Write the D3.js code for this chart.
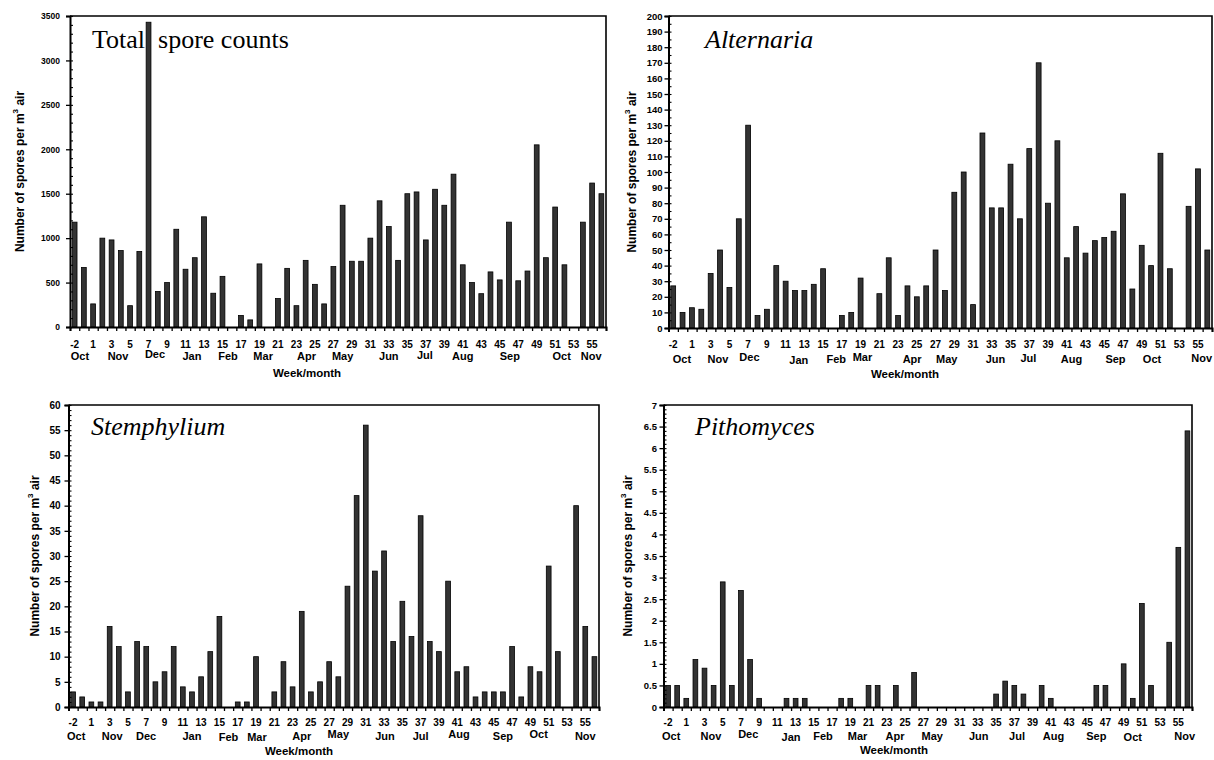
<!DOCTYPE html>
<html><head><meta charset="utf-8">
<script src="https://cdn.jsdelivr.net/npm/d3@7"></script>
<style>
body{margin:0;background:#fff}
svg{display:block}
text{font-family:"Liberation Sans",Arial,sans-serif;fill:#000}
</style>
</head><body>
<svg id="c" width="1214" height="760"></svg>
<script>
// ---- categories (week numbers) ----
const weeks = [-2,-1,1,2,3,4,5,6,7,8,9,10,11,12,13,14,15,16,17,18,19,20,21,22,23,24,25,26,27,28,29,30,31,32,33,34,35,36,37,38,39,40,41,42,43,44,45,46,47,48,49,50,51,52,53,54,55,56];
const months = ["Oct","Nov","Dec","Jan","Feb","Mar","Apr","May","Jun","Jul","Aug","Sep","Oct","Nov"];

// ---- series values ----
const totalCounts = [1180,670,260,1000,980,860,240,850,3430,400,500,1100,650,780,1240,380,570,0,130,80,710,0,320,660,240,750,480,260,680,1370,740,740,1000,1420,1130,750,1500,1520,980,1550,1370,1720,700,500,375,620,530,1180,520,630,2050,780,1350,700,0,1180,1620,1500];
const alternaria = [27,10,13,12,35,50,26,70,130,8,12,40,30,24,24,28,38,0,8,10,32,0,22,45,8,27,20,27,50,24,87,100,15,125,77,77,105,70,115,170,80,120,45,65,48,56,58,62,86,25,53,40,112,38,0,78,102,50];
const stemphylium = [3,2,1,1,16,12,3,13,12,5,7,12,4,3,6,11,18,0,1,1,10,0,3,9,4,19,3,5,9,6,24,42,56,27,31,13,21,14,38,13,11,25,7,8,2,3,3,3,12,2,8,7,28,11,0,40,16,10];
const pithomyces = [0.5,0.5,0.2,1.1,0.9,0.5,2.9,0.5,2.7,1.1,0.2,0,0,0.2,0.2,0.2,0,0,0,0.2,0.2,0,0.5,0.5,0,0.5,0,0.8,0,0,0,0,0,0,0,0,0.3,0.6,0.5,0.3,0,0.5,0.2,0,0,0,0,0.5,0.5,0,1.0,0.2,2.4,0.5,0,1.5,3.7,6.4];

// ---- y-axis tick settings ----
const yMaxes = [3500, 200, 60, 7];
const yMajorSteps = [500, 10, 5, 0.5];
const yMinorSteps = [100, 5, 1, 0.1];

// ---- layout (positions/styles only) ----
const panels = [
  {title:"Total  spore counts", italic:false, values:totalCounts,
   left:70, right:606, top:16, bottom:327, titleX:92, titleY:48,
   yTitleX:20, yLabelGap:10, yFont:8.5, tickY:344, monthY:356, xTitleX:307, xTitleY:377,
   monthAt:[0.58,4.7,8.7,12.7,16.6,20.4,25.1,29.0,34.0,37.9,42.0,47.1,52.7,55.9],
   monthDy:[0,0,-2,0,0,0,0,0,0,-1,0,0,0,0]},
  {title:"Alternaria", italic:true, values:alternaria,
   left:668.5, right:1212, top:16, bottom:328, titleX:705, titleY:48,
   yTitleX:632, yLabelGap:6, yFont:9.5, tickY:344.5, monthY:359, xTitleX:905, xTitleY:378,
   monthAt:[0.93,4.77,8.14,13.4,17.4,20.2,25.5,29.2,34.4,37.9,42.5,47.2,51.1,56.4],
   monthDy:[0,0,-2,1,0,-2,0,0,0,-1,0,0,0,-1]},
  {title:"Stemphylium", italic:true, values:stemphylium,
   left:68.5, right:599, top:405, bottom:707, titleX:91, titleY:435,
   yTitleX:35, yLabelGap:8, yFont:10, tickY:722.5, monthY:736, xTitleX:299, xTitleY:755,
   monthAt:[0.34,4.28,7.98,13.0,17.0,20.1,25.0,29.0,34.1,38.0,42.2,47.0,50.9,56.0],
   monthDy:[0,0,0,0,1,1,0,-2,0,0,-2,0,-2,0]},
  {title:"Pithomyces", italic:true, values:pithomyces,
   left:663.5, right:1192, top:405, bottom:707, titleX:695, titleY:435,
   yTitleX:628, yLabelGap:6.5, yFont:9.5, tickY:722.5, monthY:736, xTitleX:894, xTitleY:754,
   monthAt:[0.34,4.7,8.8,13.5,17.0,20.8,24.9,29.0,34.1,38.3,42.3,47.0,51.0,56.7],
   monthDy:[0,0,-2,1,0,0,0,0,0,0,0,0,1,0]}
];

const svg = d3.select("#c");

panels.forEach((p, k) => {
  const g = svg.append("g");
  const yMax = yMaxes[k];
  const x = d3.scaleBand().domain(weeks).range([p.left, p.right]).paddingInner(0.48).paddingOuter(0.24);
  const xi = d3.scaleLinear().domain([0, weeks.length]).range([p.left, p.right]);
  const y = d3.scaleLinear().domain([0, yMax]).range([p.bottom, p.top]);

  // frame (top & right)
  g.append("path")
    .attr("d", `M${p.left},${p.top}H${p.right}V${p.bottom}`)
    .attr("fill","none").attr("stroke","#000").attr("stroke-width",1.6);

  // title
  g.append("text")
    .attr("x", p.titleX).attr("y", p.titleY)
    .style("font-family", '"Liberation Serif","Times New Roman",serif')
    .style("font-size", "26px")
    .style("font-style", p.italic ? "italic" : "normal")
    .style("white-space", "pre")
    .text(p.title);

  // bars
  const data = weeks.map((w, i) => ({w, v: p.values[i]})).filter(d => d.v > 0);
  g.selectAll("rect.bar").data(data).join("rect")
    .attr("class","bar")
    .attr("x", d => x(d.w))
    .attr("width", x.bandwidth())
    .attr("y", d => y(d.v))
    .attr("height", d => y(0) - y(d.v))
    .attr("fill", "#333")
    .attr("stroke", "#000")
    .attr("stroke-width", 0.8);

  // y axis major
  const eps = yMajorSteps[k] / 1000;
  const majors = d3.range(0, yMax + eps, yMajorSteps[k]).map(v => +v.toFixed(3));
  const minors = d3.range(0, yMax + eps, yMinorSteps[k]).map(v => +v.toFixed(3));
  const ya = g.append("g").attr("transform", `translate(${p.left},0)`)
    .call(d3.axisLeft(y).tickValues(majors).tickSize(4).tickPadding(p.yLabelGap - 4).tickFormat(d => String(d)));
  ya.select(".domain").attr("stroke-width", 2);
  ya.selectAll(".tick line").attr("stroke-width", 1.3);
  ya.selectAll(".tick text").style("font-size", p.yFont + "px").style("font-weight","bold")
    .style("font-family", '"Liberation Sans",Arial,sans-serif');
  // y minor (inside)
  const ym = g.append("g").attr("transform", `translate(${p.left},0)`)
    .call(d3.axisRight(y).tickValues(minors).tickSize(3).tickFormat(""));
  ym.select(".domain").remove();
  ym.selectAll(".tick line").attr("stroke-width", 1.1);

  // x axis with ticks at category boundaries
  const xa = g.append("g").attr("transform", `translate(0,${p.bottom})`)
    .call(d3.axisBottom(xi).tickValues(d3.range(0, weeks.length + 1)).tickSize(4).tickFormat(""));
  xa.select(".domain").attr("stroke-width", 2);
  xa.selectAll(".tick line").attr("stroke-width", 1.3);

  // week tick labels (every other category)
  g.selectAll("text.wk").data(weeks.filter((w, i) => i % 2 === 0)).join("text")
    .attr("class","wk")
    .attr("x", d => x(d) + x.bandwidth()/2)
    .attr("y", p.tickY)
    .attr("text-anchor","middle").attr("dominant-baseline","central")
    .style("font-size","10px").style("font-weight","bold")
    .text(d => d);

  // month labels
  g.selectAll("text.mo").data(months).join("text")
    .attr("class","mo")
    .attr("x", (d, i) => xi(p.monthAt[i] + 0.5))
    .attr("y", (d, i) => p.monthY + p.monthDy[i])
    .attr("text-anchor","middle").attr("dominant-baseline","central")
    .style("font-size","11px").style("font-weight","bold")
    .text(d => d);

  // x title
  g.append("text")
    .attr("x", p.xTitleX).attr("y", p.xTitleY)
    .attr("text-anchor","middle")
    .style("font-size","11.5px").style("font-weight","bold")
    .text("Week/month");

  // y title
  const yt = g.append("text")
    .attr("transform", `translate(${p.yTitleX},${(p.top + p.bottom)/2}) rotate(-90)`)
    .attr("text-anchor","middle").attr("dominant-baseline","central")
    .style("font-size","12px").style("font-weight","bold");
  yt.append("tspan").text("Number of spores per m");
  yt.append("tspan").attr("dy", -5).style("font-size","8px").text("3");
  yt.append("tspan").attr("dy", 5).text(" air");
});
</script>
</body></html>
